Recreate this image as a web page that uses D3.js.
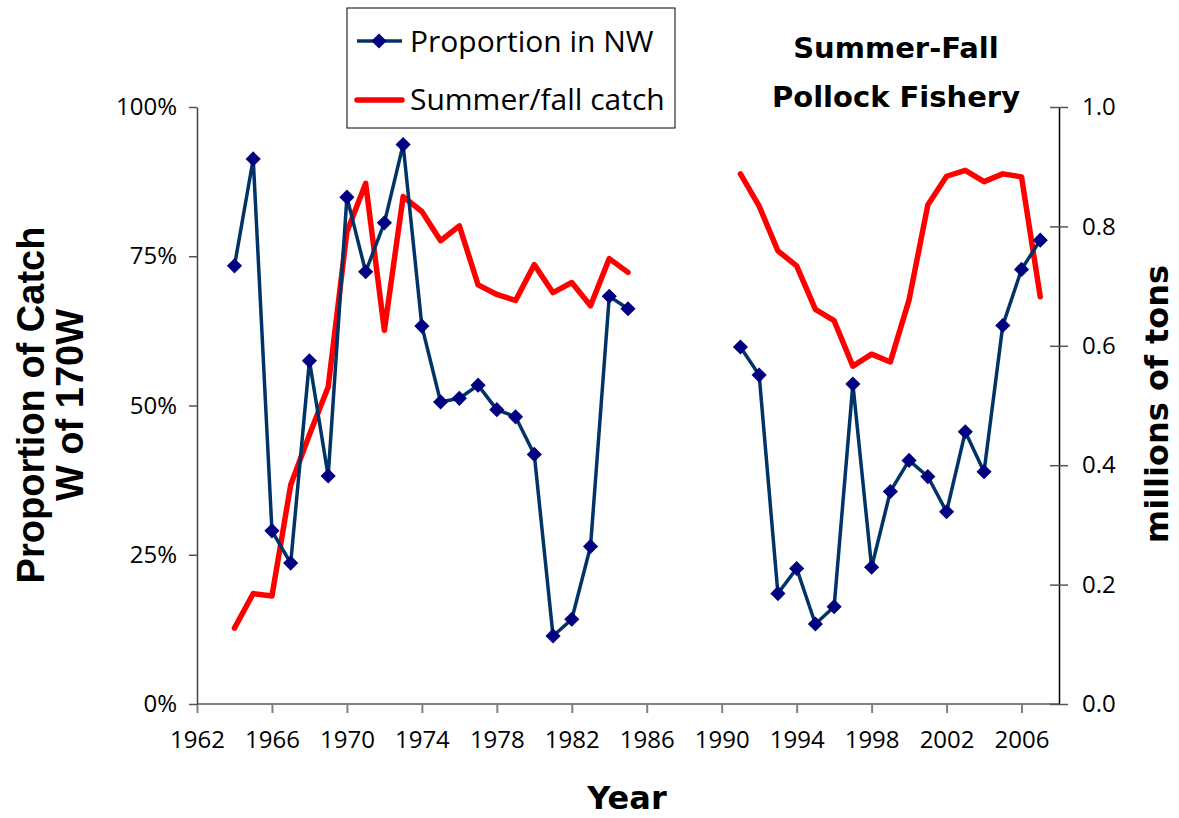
<!DOCTYPE html>
<meta charset="utf-8">
<style>
body { margin: 0; background: #fff; }
.tick text { font-family: "Open Sans", "DejaVu Sans", sans-serif; font-size: 24px; fill: #000; }
.axis-title { font-family: "Liberation Sans", Arial, sans-serif; font-weight: bold; fill: #000; }
.legend text { font-family: "Open Sans", "DejaVu Sans", sans-serif; font-size: 30px; fill: #000; }
</style>
<body>
<script src="https://d3js.org/d3.v7.min.js"></script>
<script>

// early period 1964-1985
var years1 = [1964,1965,1966,1967,1968,1969,1970,1971,1972,1973,1974,1975,1976,1977,1978,1979,1980,1981,1982,1983,1984,1985];
var prop1  = [0.734,0.913,0.290,0.236,0.575,0.382,0.849,0.724,0.806,0.937,0.633,0.506,0.512,0.534,0.493,0.481,0.418,0.114,0.142,0.264,0.683,0.662];
var catch1 = [0.127,0.185,0.181,0.367,0.451,0.531,0.791,0.872,0.626,0.850,0.825,0.776,0.801,0.702,0.686,0.676,0.736,0.689,0.706,0.667,0.746,0.723];

// later period 1991-2007
var years2 = [1991,1992,1993,1994,1995,1996,1997,1998,1999,2000,2001,2002,2003,2004,2005,2006,2007];
var prop2  = [0.598,0.551,0.185,0.227,0.134,0.163,0.536,0.229,0.356,0.408,0.381,0.322,0.456,0.389,0.634,0.728,0.777];
var catch2 = [0.888,0.834,0.759,0.734,0.661,0.642,0.566,0.586,0.573,0.677,0.836,0.884,0.894,0.875,0.888,0.883,0.682];

var yearTicks = d3.range(1962, 2007, 4);
var pctTicks = [0, 0.25, 0.5, 0.75, 1];
var tonTicks = [0, 0.2, 0.4, 0.6, 0.8, 1.0];

var margin = {top: 107, right: 120, bottom: 114, left: 197},
    width = 1179 - margin.left - margin.right,
    height = 818 - margin.top - margin.bottom;

var svg = d3.select("body").append("svg")
    .attr("width", 1179)
    .attr("height", 818);

var g = svg.append("g")
    .attr("transform", "translate(" + margin.left + "," + margin.top + ")");

var x = d3.scaleLinear().domain([1962, 2008]).range([0, width]);
var yL = d3.scaleLinear().domain([0, 1]).range([height, 0]);
var yR = d3.scaleLinear().domain([0, 1]).range([height, 0]);

// axes
var xAxis = g.append("g")
    .attr("transform", "translate(0," + height + ")")
    .call(d3.axisBottom(x).tickValues(yearTicks).tickFormat(d3.format("d")).tickSize(9).tickSizeOuter(0).tickPadding(18));
xAxis.select(".domain").attr("stroke", "#808080").attr("stroke-width", 2)
    .attr("d", "M0,0H" + width);
xAxis.selectAll(".tick line").attr("stroke", "#808080").attr("stroke-width", 2);

var yAxisL = g.append("g")
    .call(d3.axisLeft(yL).tickValues(pctTicks).tickFormat(d3.format(".0%")).tickSize(8).tickSizeOuter(0).tickPadding(12));
yAxisL.select(".domain").attr("stroke", "#444").attr("stroke-width", 1.5);
yAxisL.selectAll(".tick line").attr("stroke", "#555").attr("stroke-width", 1.5);

var yAxisR = g.append("g")
    .attr("transform", "translate(" + width + ",0)")
    .call(d3.axisRight(yR).tickValues(tonTicks).tickFormat(d3.format(".1f")).tickSize(9).tickSizeOuter(0).tickPadding(14));
yAxisR.select(".domain").attr("stroke", "#000").attr("stroke-width", 1.5);
yAxisR.selectAll(".tick line").attr("stroke", "#555").attr("stroke-width", 1.5)
    .attr("x1", -9);

// lines
var propLine = d3.line()
    .x(function(d) { return x(d[0]); })
    .y(function(d) { return yL(d[1]); });
var catchLine = d3.line()
    .x(function(d) { return x(d[0]); })
    .y(function(d) { return yR(d[1]); });

var propSegs = [d3.zip(years1, prop1), d3.zip(years2, prop2)];
var catchSegs = [d3.zip(years1, catch1), d3.zip(years2, catch2)];

g.selectAll(".catch").data(catchSegs).enter().append("path")
    .attr("class", "catch")
    .attr("d", catchLine)
    .attr("fill", "none")
    .attr("stroke", "#ff0000")
    .attr("stroke-width", 5.5)
    .attr("stroke-linejoin", "round")
    .attr("stroke-linecap", "round");

g.selectAll(".prop").data(propSegs).enter().append("path")
    .attr("class", "prop")
    .attr("d", propLine)
    .attr("fill", "none")
    .attr("stroke", "#003366")
    .attr("stroke-width", 3.5);

// diamond marker = square turned 45 degrees
var diamond = d3.symbol().type(d3.symbolSquare).size(115);
g.selectAll(".pt").data(propSegs[0].concat(propSegs[1])).enter().append("path")
    .attr("class", "pt")
    .attr("transform", function(d) { return "translate(" + x(d[0]) + "," + yL(d[1]) + ") rotate(45)"; })
    .attr("d", diamond)
    .attr("fill", "#000080");

// axis titles
svg.append("text").attr("class", "axis-title")
    .attr("transform", "translate(44,405) rotate(-90)")
    .attr("text-anchor", "middle")
    .style("font-size", "38px")
    .text("Proportion of Catch");
svg.append("text").attr("class", "axis-title")
    .attr("transform", "translate(83,405) rotate(-90)")
    .attr("text-anchor", "middle")
    .style("font-size", "38px")
    .text("W of 170W");

svg.append("text").attr("class", "axis-title")
    .attr("transform", "translate(1168,404) rotate(-90)")
    .attr("text-anchor", "middle")
    .style("font-family", "'DejaVu Sans', sans-serif")
    .style("font-size", "32px")
    .text("millions of tons");

svg.append("text").attr("class", "axis-title")
    .attr("x", 627).attr("y", 809)
    .attr("text-anchor", "middle")
    .style("font-family", "'DejaVu Sans', sans-serif")
    .style("font-size", "32px")
    .text("Year");

// title
var title = svg.append("text")
    .attr("text-anchor", "middle")
    .style("font-family", "'DejaVu Sans', sans-serif")
    .style("font-weight", "bold")
    .style("font-size", "29px");
title.append("tspan").attr("x", 896).attr("y", 58).text("Summer-Fall");
title.append("tspan").attr("x", 896).attr("y", 107).text("Pollock Fishery");

// legend
var legend = svg.append("g").attr("class", "legend");
legend.append("rect")
    .attr("x", 347).attr("y", 8).attr("width", 328).attr("height", 120)
    .attr("fill", "#fff").attr("stroke", "#000").attr("stroke-width", 1);
legend.append("line")
    .attr("x1", 357).attr("x2", 402).attr("y1", 41).attr("y2", 41)
    .attr("stroke", "#003366").attr("stroke-width", 3.5);
legend.append("path")
    .attr("transform", "translate(379,41) rotate(45)")
    .attr("d", diamond).attr("fill", "#000080");
legend.append("text").attr("x", 410).attr("y", 52).text("Proportion in NW");
legend.append("line")
    .attr("x1", 357).attr("x2", 402).attr("y1", 100).attr("y2", 100)
    .attr("stroke", "#ff0000").attr("stroke-width", 5.5).attr("stroke-linecap", "round");
legend.append("text").attr("x", 410).attr("y", 110).text("Summer/fall catch");

</script>
</body>
